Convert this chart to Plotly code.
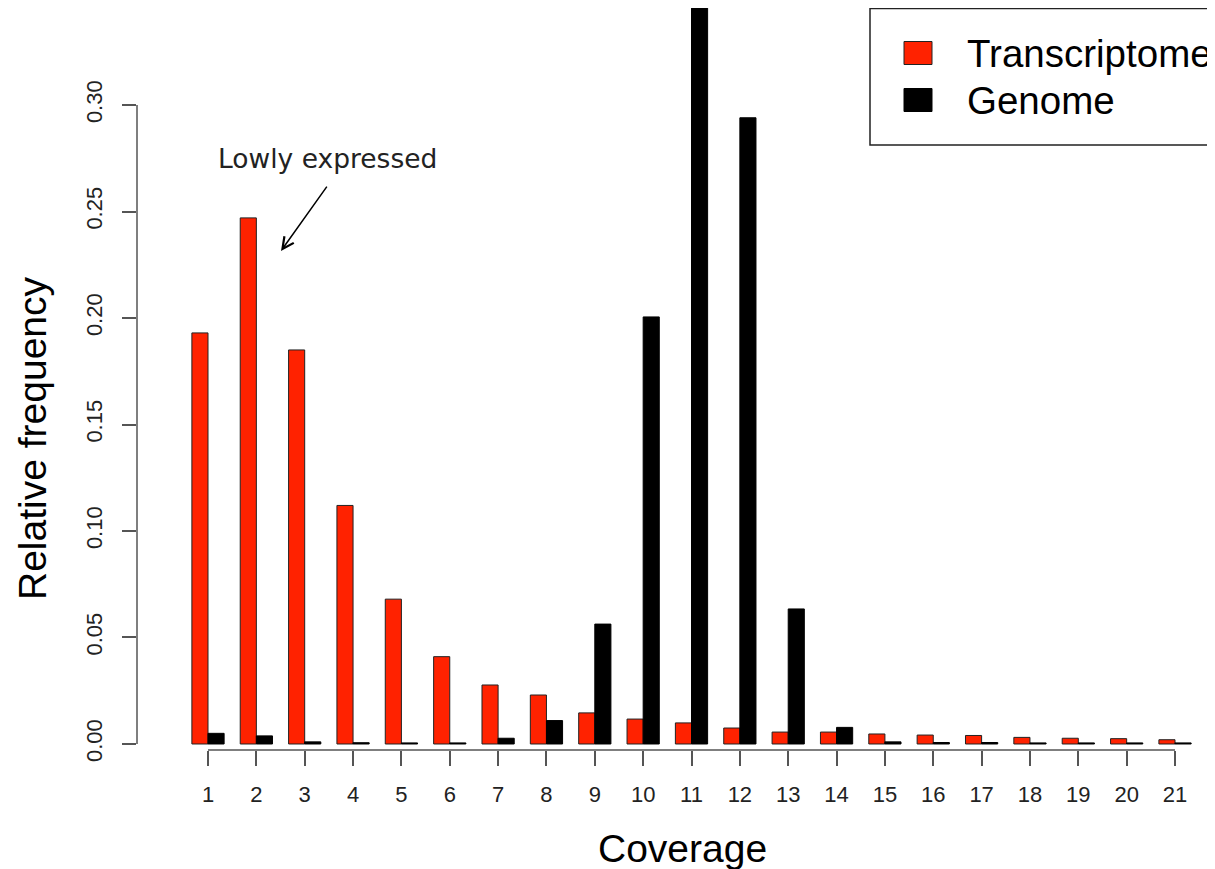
import plotly.graph_objects as go

coverage = list(range(1, 22))
transcriptome = [0.193, 0.247, 0.185, 0.112, 0.068, 0.041, 0.0277, 0.023, 0.0146, 0.0117,
                 0.0099, 0.0075, 0.0056, 0.0056, 0.0047, 0.0042, 0.0040, 0.0031, 0.0027, 0.0025, 0.0020]
genome = [0.005, 0.0038, 0.001, 0.0006, 0.0005, 0.0005, 0.0027, 0.011, 0.0563, 0.2005,
          0.3455, 0.294, 0.0634, 0.0078, 0.001, 0.0007, 0.0007, 0.0005, 0.0005, 0.0005, 0.0005]
y_ticks = [0.00, 0.05, 0.10, 0.15, 0.20, 0.25, 0.30]
y_ticktext = ["0.00", "0.05", "0.10", "0.15", "0.20", "0.25", "0.30"]
series_names = ["Transcriptome", "Genome"]
x_title = "Coverage"
y_title = "Relative frequency"

RED = "#ff2200"
BLACK = "#000000"
AXIS = "#555555"
FONT = "Liberation Sans, Arial, sans-serif"

fig = go.Figure()
fig.add_trace(go.Bar(x=coverage, y=transcriptome, name=series_names[0],
                     marker=dict(color=RED, line=dict(color="#222222", width=1)),
                     showlegend=False))
fig.add_trace(go.Bar(x=coverage, y=genome, name=series_names[1],
                     marker=dict(color=BLACK, line=dict(color=BLACK, width=1)),
                     showlegend=False))

OFF = 8  # page body margin
W, H = 1215 - OFF, 869 - OFF
L, R, T, B = 137 - OFF, 0, 0, 119
pw, ph = W - L - R, H - T - B

def px_x(p):
    return (p - OFF - L) / pw

def px_y(p):
    return (H - B - (p - OFF)) / ph

shapes = [
    dict(type="line", xref="paper", yref="y", x0=0, x1=0, y0=y_ticks[0], y1=y_ticks[-1],
         line=dict(color=AXIS, width=1.5)),
    dict(type="line", xref="x", yref="paper", x0=coverage[0], x1=coverage[-1], y0=0, y1=0,
         line=dict(color=AXIS, width=1.5)),
    dict(type="rect", xref="paper", yref="paper", x0=px_x(870), x1=px_x(1222),
         y0=px_y(145), y1=px_y(8.5), line=dict(color="#222222", width=1.5), fillcolor="white"),
    dict(type="rect", xref="paper", yref="paper", x0=px_x(904), x1=px_x(932),
         y0=px_y(64.5), y1=px_y(41.5), line=dict(color="#222222", width=1), fillcolor=RED),
    dict(type="rect", xref="paper", yref="paper", x0=px_x(904), x1=px_x(932),
         y0=px_y(111.5), y1=px_y(88.5), line=dict(color=BLACK, width=1), fillcolor=BLACK),
]

annotations = [
    dict(xref="paper", yref="paper", x=px_x(965), y=px_y(53), text=series_names[0],
         showarrow=False, xanchor="left", yanchor="middle",
         font=dict(family=FONT, size=38.5, color="black")),
    dict(xref="paper", yref="paper", x=px_x(965), y=px_y(100), text=series_names[1],
         showarrow=False, xanchor="left", yanchor="middle",
         font=dict(family=FONT, size=38.5, color="black")),
    dict(xref="x", yref="y", x=3.48, y=0.275, text="Lowly expressed", showarrow=False,
         xanchor="center", yanchor="middle",
         font=dict(family="DejaVu Sans, sans-serif", size=26.5, color="#222222")),
    dict(xref="x", yref="y", x=2.51, y=0.2315, axref="x", ayref="y", ax=3.48, ay=0.2624,
         text="", showarrow=True, arrowhead=5, arrowsize=1.5, arrowwidth=1.5, arrowcolor="black"),
    dict(xref="paper", yref="paper", x=px_x(682), y=px_y(848), text=x_title,
         showarrow=False, xanchor="center", yanchor="middle",
         font=dict(family=FONT, size=39, color="black")),
    dict(xref="paper", yref="paper", x=px_x(32), y=px_y(438), text=y_title, textangle=-90,
         showarrow=False, xanchor="center", yanchor="middle",
         font=dict(family=FONT, size=39, color="black")),
]

fig.update_layout(
    width=W, height=H,
    margin=dict(l=L, r=R, t=T, b=B, pad=0),
    paper_bgcolor="white", plot_bgcolor="white",
    barmode="group", bargap=1/3, bargroupgap=0,
    shapes=shapes, annotations=annotations,
    font=dict(family=FONT, color="black"),
    xaxis=dict(range=[-0.4684, 21.827], tickvals=coverage, ticktext=[str(c) for c in coverage],
               showgrid=False, zeroline=False, showline=False,
               ticks="outside", ticklen=15, tickwidth=1.5, tickcolor=AXIS,
               tickfont=dict(family=FONT, size=22, color="#222222"),
               ticklabelstandoff=10),
    yaxis=dict(range=[-0.00282, 0.34554], tickvals=y_ticks, ticktext=y_ticktext,
               showgrid=False, zeroline=False, showline=False,
               ticks="outside", ticklen=14, tickwidth=1.5, tickcolor=AXIS,
               tickangle=-90,
               tickfont=dict(family=FONT, size=22, color="#222222"),
               ticklabelstandoff=11),
)

fig.write_html("out.html")
